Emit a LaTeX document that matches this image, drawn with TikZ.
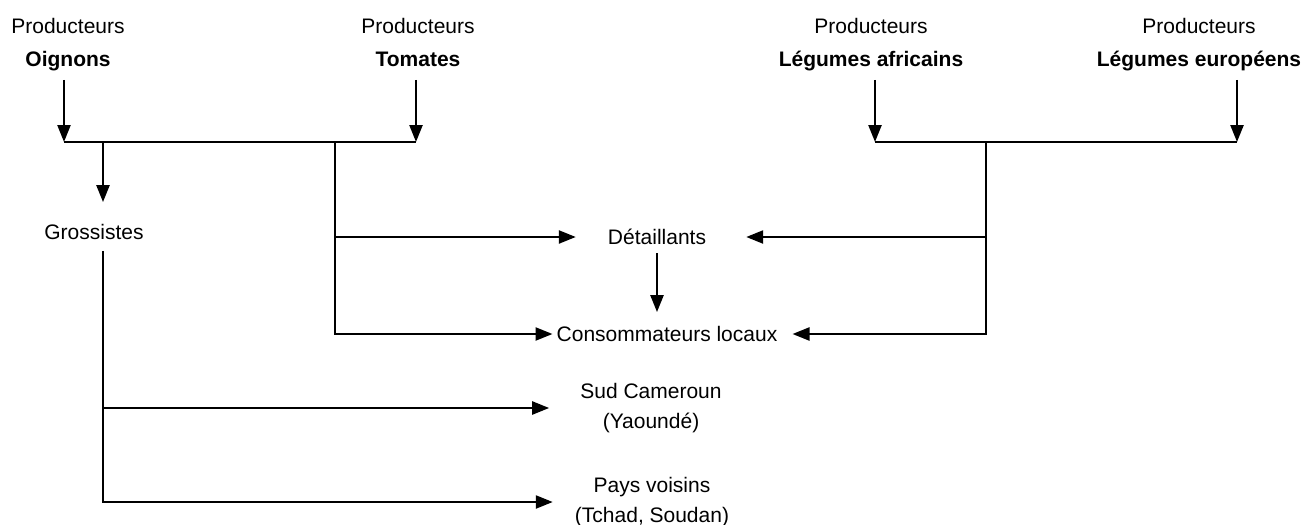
\documentclass[tikz,border=0pt]{standalone}
\usepackage{fontspec}
\setmainfont{Liberation Sans}
\usetikzlibrary{arrows.meta}

\begin{document}
\begin{tikzpicture}[x=0.5pt,y=-0.5pt,line width=1.2pt,
  lbl/.style={font=\fontsize{10.5}{16.5}\selectfont, align=center, inner sep=0pt},
  two/.style={lbl, font=\fontsize{10.5}{15}\selectfont},
  arr/.style={-{Triangle[length=8.5pt,width=6.5pt]}}]
\useasboundingbox (0,0) rectangle (1315,524);
\def \bary {142}
% producteurs et barres
\foreach \nm/\x/\lab/\ax in {pO/68/Oignons/64, pT/418/Tomates/416,
    pA/871/Légumes africains/875, pE/1199/Légumes européens/1237}
  {\node[lbl, anchor=north] (\nm) at (\x,17) {Producteurs\\\textbf{\lab}};
   \coordinate (j\nm) at (\ax,\bary);
   \draw[arr] ([yshift=-31.5pt]\nm.north -| j\nm) -- (j\nm);}
\draw (jpO) -- (jpT);
\draw (jpA) -- (jpE);
\coordinate (gB) at (103,\bary);
\coordinate (tB) at (335,\bary);
\coordinate (aB) at (986,\bary);

% destinations
\node[lbl] (gro) at (94,232) {Grossistes};
\node[lbl] (det) at (657,237) {Détaillants};
\node[lbl] (con) at (667,334) {Consommateurs locaux};
\node[two] (sud) at (651,408) {Sud Cameroun\\(Yaoundé)};
\node[two] (pay) at (652,502) {Pays voisins\\(Tchad, Soudan)};

% flux
\draw[arr, shorten >=10.5pt] (gB) -- (gB |- gro.north);
\draw[arr, shorten >=10.5pt] ([yshift=-5pt]gro.south -| gB) |- (pay);
\draw[arr, shorten >=15pt] (gB |- sud) -- (sud);
\draw[arr, shorten >=1.5pt] (tB) |- (con);
\draw[arr, shorten >=15.5pt] (tB |- det) -- (det);
\draw[arr, shorten >=7pt] (aB) |- (con);
\draw[arr, shorten >=19.5pt] (aB |- det) -- (det);
\draw[arr, shorten <=3.5pt, shorten >=6.5pt] (det.south) -- (det.south |- con.north);
\end{tikzpicture}
\end{document}
